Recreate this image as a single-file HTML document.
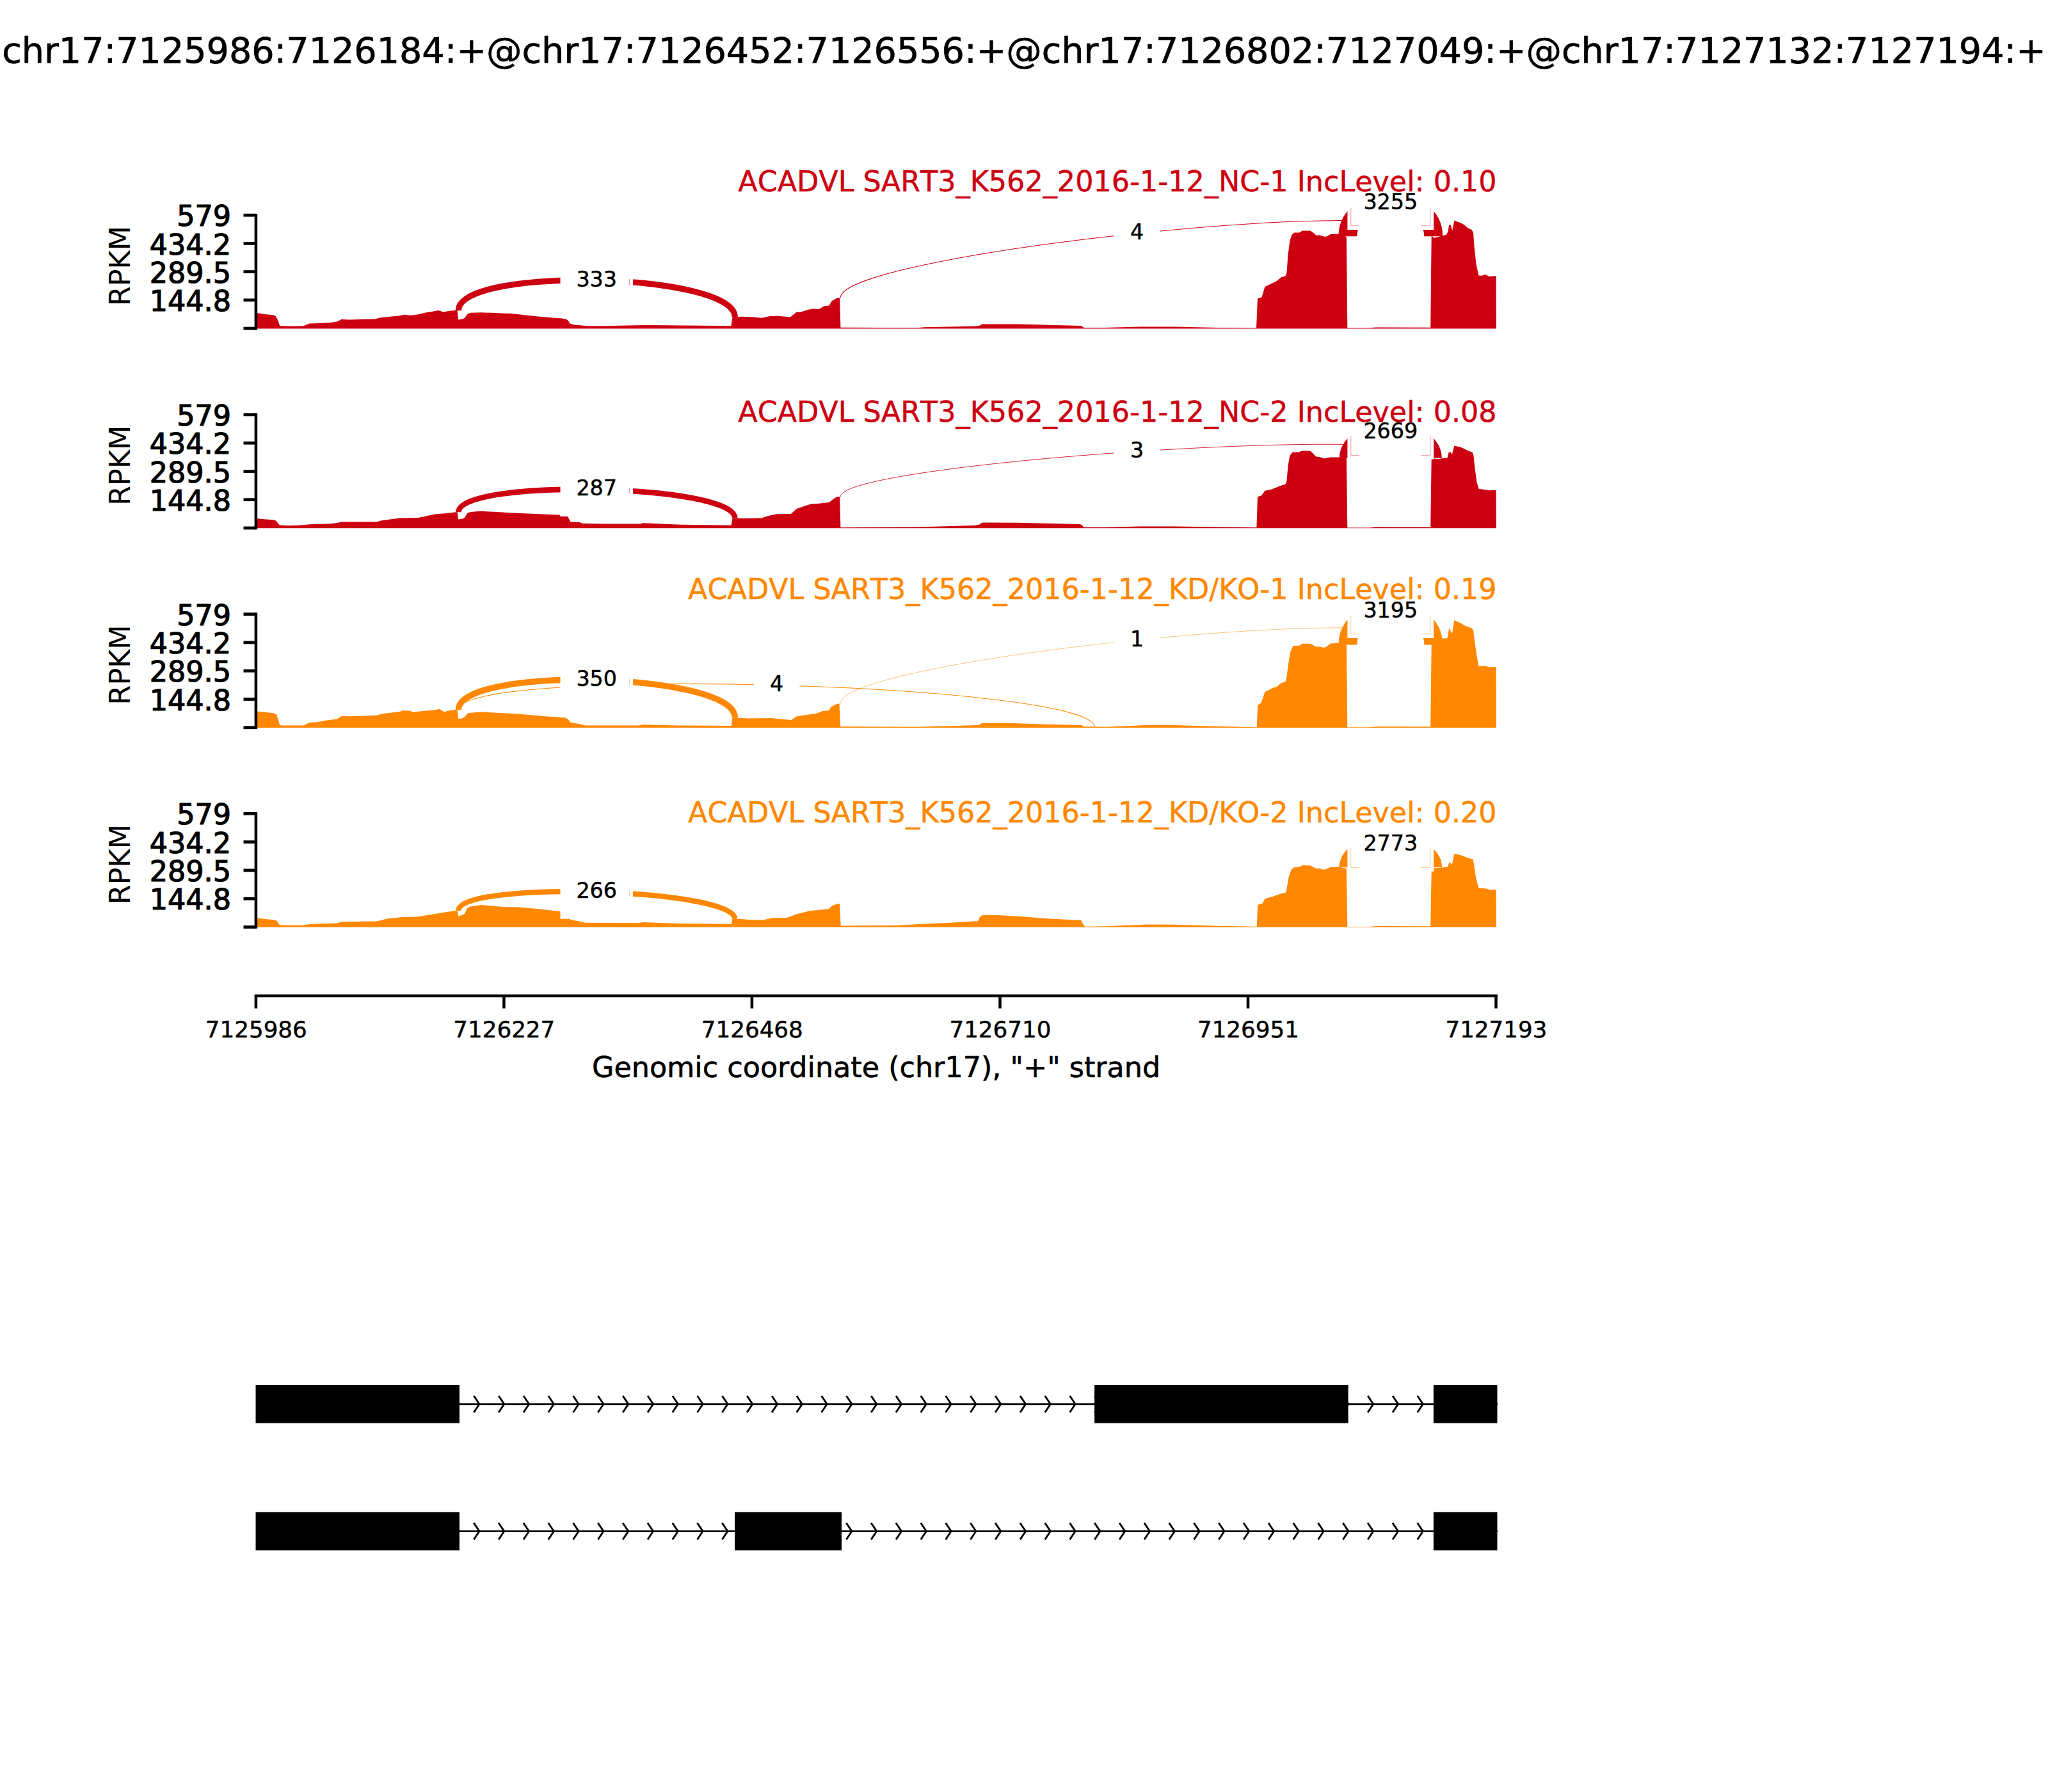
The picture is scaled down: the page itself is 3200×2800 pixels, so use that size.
<!DOCTYPE html>
<html><head><meta charset="utf-8"><title>sashimi plot</title>
<style>html,body{margin:0;padding:0;background:#fff}svg{display:block}text{font-family:'DejaVu Sans', 'Liberation Sans', sans-serif;font-kerning:none;stroke-linejoin:round;}.t10{stroke:#000;stroke-width:0.7px}.t8{stroke:#000;stroke-width:1.2px}.t6{stroke:#000;stroke-width:0.5px}.tx{stroke:#000;stroke-width:0.5px}.t8b{stroke:#000;stroke-width:0.6px}.tr{stroke:#CC0011;stroke-width:0.5px}.to{stroke:#FF8800;stroke-width:0.5px}</style>
</head><body>
<svg width="3200" height="2800" viewBox="0 0 3200 2800">
<rect x="0" y="0" width="3200" height="2800" fill="#ffffff"/>
<text class="t10" x="1600" y="97.8" font-size="55.56" text-anchor="middle" fill="#000">chr17:7125986:7126184:+@chr17:7126452:7126556:+@chr17:7126802:7127049:+@chr17:7127132:7127194:+</text>
<g>
<polygon fill="#CC0011" points="400.0,513.4 400.0,488.8 415.4,491.3 427.1,492.3 431.0,494.2 434.0,500.0 436.9,508.3 438.8,509.3 458.4,509.8 474.0,509.3 483.8,505.4 499.4,505.0 517.0,504.0 526.7,502.4 533.6,499.1 546.2,499.5 585.3,498.5 595.0,496.2 624.4,493.2 632.2,491.7 642.0,492.7 653.7,491.3 663.4,488.8 677.1,486.4 685.0,485.0 692.7,487.4 702.5,485.8 711.9,485.0 714.6,485.0 716.2,499.5 722.0,498.7 726.0,497.1 730.8,490.3 735.7,488.8 751.3,488.2 790.0,489.7 797.8,489.7 819.3,492.3 848.6,495.2 877.9,497.5 884.7,498.7 887.7,501.0 890.6,505.4 895.5,507.3 917.0,509.3 946.2,509.3 1004.8,507.9 1063.4,508.5 1122.0,508.9 1142.5,508.9 1144.5,495.2 1161.1,494.8 1174.8,495.2 1190.0,496.8 1201.7,494.2 1213.4,493.6 1234.9,495.6 1244.7,487.4 1250.5,487.8 1262.3,484.1 1270.0,482.5 1279.8,482.9 1287.7,478.2 1295.5,477.6 1299.4,470.4 1307.2,465.9 1312.1,465.3 1313.4,511.8 1434.0,512.2 1444.0,511.2 1522.0,509.8 1529.8,508.9 1534.7,506.5 1590.0,506.5 1687.7,509.0 1690.6,509.8 1693.5,512.0 1726.7,512.0 1785.3,510.4 1834.0,510.4 1902.5,512.0 1963.0,512.6 1965.0,466.5 1971.5,464.5 1976.4,447.9 1989.0,442.0 1994.9,439.1 2001.8,433.3 2008.6,431.3 2010.5,425.5 2012.5,398.1 2015.4,376.6 2018.4,366.9 2022.3,363.4 2030.0,363.4 2035.0,360.6 2047.7,360.4 2057.4,367.9 2061.3,367.3 2069.1,369.8 2073.0,369.4 2078.9,365.9 2090.6,365.5 2099.4,365.5 2103.3,370.4 2103.9,370.4 2105.3,512.5 2140.0,512.6 2150.0,511.5 2234.8,511.8 2235.2,512.0 2236.7,368.8 2241.0,371.8 2248.8,369.8 2254.7,367.9 2259.6,366.9 2262.5,362.0 2264.1,351.3 2266.8,351.8 2269.3,360.0 2272.3,344.4 2282.0,348.3 2287.9,351.2 2293.8,356.5 2299.6,359.1 2302.1,363.9 2303.5,384.5 2306.4,411.8 2310.4,430.4 2315.2,430.7 2321.1,429.0 2327.0,431.9 2336.3,431.3 2337.0,431.3 2337.6,431.3 2337.9,513.4"/>
<path d="M716.3,485.2 C716.3,415.7 1148.2,425.7 1148.2,495.2" fill="none" stroke="#CC0011" stroke-width="9.28"/>
<path d="M1313.3,465.1 C1313.3,395.6 2239.9,299.1 2239.9,368.6" fill="none" stroke="#CC0011" stroke-width="1.02"/>
<path d="M2105.9,369.2 C2105.9,299.7 2239.7,299.7 2239.7,369.2" fill="none" stroke="#CC0011" stroke-width="29.00"/>
<rect x="875.5" y="396.4" width="113.6" height="83.6" fill="#fff"/>
<path d="M983.6,436.0 V445.2" fill="none" stroke="#CC0011" stroke-opacity="0.45" stroke-width="1"/>
<text class="t6" x="932.2" y="447.6" font-size="33.33" text-anchor="middle" fill="#000">333</text>
<rect x="1741.0" y="323.0" width="71.2" height="83.6" fill="#fff"/>
<text class="t6" x="1776.6" y="374.2" font-size="33.33" text-anchor="middle" fill="#000">4</text>
<rect x="2105.4" y="275.4" width="134.8" height="83.6" fill="#fff"/>
<path d="M2110.8,324.4 V352.8 H2123.8 M2234.8,324.4 V352.8 H2219.8" fill="none" stroke="#CC0011" stroke-opacity="0.4" stroke-width="1"/>
<text class="t6" x="2172.8" y="326.6" font-size="33.33" text-anchor="middle" fill="#000">3255</text>
<text class="tr" x="2338.6" y="298.7" font-size="44.44" text-anchor="end" fill="#CC0011">ACADVL SART3_K562_2016-1-12_NC-1 IncLevel: 0.10</text>
<path d="M399.9,333.9 V515.4" stroke="#000" stroke-width="4.5" fill="none"/>
<path d="M380.5,336.2 H400.0" stroke="#000" stroke-width="4.8" fill="none"/>
<text class="t8" x="361.0" y="353.3" font-size="44.44" text-anchor="end" fill="#000">579</text>
<path d="M380.5,380.4 H400.0" stroke="#000" stroke-width="4.8" fill="none"/>
<text class="t8" x="361.0" y="397.5" font-size="44.44" text-anchor="end" fill="#000">434.2</text>
<path d="M380.5,424.6 H400.0" stroke="#000" stroke-width="4.8" fill="none"/>
<text class="t8" x="361.0" y="441.8" font-size="44.44" text-anchor="end" fill="#000">289.5</text>
<path d="M380.5,468.9 H400.0" stroke="#000" stroke-width="4.8" fill="none"/>
<text class="t8" x="361.0" y="486.0" font-size="44.44" text-anchor="end" fill="#000">144.8</text>
<path d="M380.5,513.1 H400.0" stroke="#000" stroke-width="4.8" fill="none"/>
<text transform="translate(202.8,415.5) rotate(-90)" font-size="44.44" text-anchor="middle" fill="#000">RPKM</text>
</g>
<g>
<polygon fill="#CC0011" points="400.0,825.3 400.0,810.1 415.4,811.6 427.1,812.2 431.0,813.6 434.0,816.9 436.9,820.4 448.6,821.2 464.2,821.0 483.8,819.3 517.0,818.3 526.7,816.9 533.6,815.5 589.2,815.4 595.0,813.4 624.4,809.5 653.7,809.1 679.0,803.6 694.7,802.3 711.9,800.3 714.6,800.3 716.2,811.4 722.0,810.7 726.0,808.7 730.8,801.3 735.7,799.9 751.3,798.4 761.1,799.3 790.0,800.7 809.5,801.7 848.6,803.6 874.0,804.6 875.9,806.2 886.7,806.8 888.6,810.1 891.6,815.4 905.2,815.9 911.1,817.9 946.2,818.5 1000.9,818.5 1004.8,817.3 1063.4,819.8 1142.5,820.8 1144.5,809.5 1161.1,810.1 1190.0,809.4 1199.8,806.2 1213.4,803.2 1235.9,802.9 1244.7,795.0 1258.4,790.2 1268.1,787.2 1279.8,786.8 1295.5,784.9 1302.3,779.4 1307.2,776.5 1312.1,776.1 1313.4,824.3 1434.0,823.4 1522.0,821.0 1529.8,819.8 1534.7,816.5 1590.0,816.7 1687.7,819.1 1690.6,820.4 1693.5,823.9 1726.7,823.9 1785.3,822.4 1834.0,822.4 1902.5,823.4 1963.4,824.3 1965.0,776.3 1971.2,774.3 1976.5,766.7 1984.5,765.2 1989.0,763.8 2000.8,758.9 2008.6,756.6 2010.5,751.1 2012.5,727.7 2015.4,712.0 2019.3,706.8 2030.0,706.2 2035.0,704.2 2047.7,704.8 2056.4,713.4 2062.3,714.0 2069.1,716.5 2078.9,714.4 2090.6,714.4 2103.3,715.9 2103.9,715.9 2105.3,824.5 2140.0,824.6 2150.0,823.5 2234.8,823.8 2235.2,824.0 2236.7,715.9 2246.9,717.3 2254.7,715.9 2261.5,715.5 2263.5,707.1 2266.4,706.2 2268.9,710.1 2272.3,696.4 2282.0,698.4 2293.8,704.2 2300.6,706.8 2302.5,712.0 2304.5,731.6 2307.4,753.0 2310.4,763.8 2317.2,764.8 2327.0,766.3 2336.3,765.7 2337.0,765.7 2337.6,765.7 2337.9,825.3"/>
<path d="M716.3,800.3 C716.3,747.0 1148.2,756.2 1148.2,809.5" fill="none" stroke="#CC0011" stroke-width="8.61"/>
<path d="M1313.3,776.0 C1313.3,722.7 2239.9,661.5 2239.9,714.8" fill="none" stroke="#CC0011" stroke-width="0.88"/>
<path d="M2105.9,715.7 C2105.9,662.4 2239.7,662.4 2239.7,715.7" fill="none" stroke="#CC0011" stroke-width="26.26"/>
<rect x="875.5" y="723.2" width="113.6" height="83.6" fill="#fff"/>
<path d="M983.6,762.7 V771.3" fill="none" stroke="#CC0011" stroke-opacity="0.45" stroke-width="1"/>
<text class="t6" x="932.2" y="774.4" font-size="33.33" text-anchor="middle" fill="#000">287</text>
<rect x="1741.0" y="663.7" width="71.2" height="83.6" fill="#fff"/>
<text class="t6" x="1776.6" y="714.9" font-size="33.33" text-anchor="middle" fill="#000">3</text>
<rect x="2105.4" y="634.0" width="134.8" height="83.6" fill="#fff"/>
<path d="M2110.8,681.3 V711.4 H2123.8 M2234.8,681.3 V711.4 H2219.8" fill="none" stroke="#CC0011" stroke-opacity="0.4" stroke-width="1"/>
<text class="t6" x="2172.8" y="685.2" font-size="33.33" text-anchor="middle" fill="#000">2669</text>
<text class="tr" x="2338.6" y="659.4" font-size="44.44" text-anchor="end" fill="#CC0011">ACADVL SART3_K562_2016-1-12_NC-2 IncLevel: 0.08</text>
<path d="M399.9,645.6 V827.3" stroke="#000" stroke-width="4.5" fill="none"/>
<path d="M380.5,647.9 H400.0" stroke="#000" stroke-width="4.8" fill="none"/>
<text class="t8" x="361.0" y="665.0" font-size="44.44" text-anchor="end" fill="#000">579</text>
<path d="M380.5,692.2 H400.0" stroke="#000" stroke-width="4.8" fill="none"/>
<text class="t8" x="361.0" y="709.3" font-size="44.44" text-anchor="end" fill="#000">434.2</text>
<path d="M380.5,736.5 H400.0" stroke="#000" stroke-width="4.8" fill="none"/>
<text class="t8" x="361.0" y="753.6" font-size="44.44" text-anchor="end" fill="#000">289.5</text>
<path d="M380.5,780.7 H400.0" stroke="#000" stroke-width="4.8" fill="none"/>
<text class="t8" x="361.0" y="797.8" font-size="44.44" text-anchor="end" fill="#000">144.8</text>
<path d="M380.5,825.0 H400.0" stroke="#000" stroke-width="4.8" fill="none"/>
<text transform="translate(202.8,727.2) rotate(-90)" font-size="44.44" text-anchor="middle" fill="#000">RPKM</text>
</g>
<g>
<polygon fill="#FF8800" points="400.0,1137.1 400.0,1111.3 415.4,1112.9 427.1,1114.2 432.0,1116.2 434.5,1124.0 436.9,1132.2 439.8,1133.4 474.0,1133.4 483.8,1128.9 495.5,1128.3 507.2,1125.9 526.7,1123.6 533.6,1118.7 546.2,1119.3 589.2,1117.7 597.0,1115.2 624.4,1111.9 630.2,1109.9 642.0,1110.7 643.9,1112.7 663.4,1110.7 679.0,1109.3 686.9,1108.0 693.7,1112.3 702.5,1110.3 711.9,1108.9 714.6,1109.3 716.2,1123.0 722.0,1122.4 726.3,1120.1 730.8,1114.6 735.7,1113.8 751.3,1112.3 790.0,1114.6 809.5,1115.5 848.6,1118.9 882.8,1121.3 887.7,1123.8 891.3,1128.7 904.7,1131.1 914.5,1133.5 997.5,1133.5 1004.8,1132.3 1058.6,1133.5 1142.8,1134.0 1144.5,1120.8 1168.4,1122.6 1205.0,1122.0 1229.5,1124.5 1236.8,1125.0 1244.1,1119.6 1258.8,1117.2 1275.8,1114.7 1285.6,1111.1 1294.9,1110.2 1298.5,1104.8 1305.9,1100.4 1311.5,1099.2 1313.2,1135.3 1431.6,1135.8 1497.5,1134.1 1529.3,1132.9 1534.1,1129.9 1583.0,1129.9 1631.8,1131.7 1690.4,1132.9 1692.8,1135.3 1729.5,1135.8 1790.0,1132.9 1834.0,1132.9 1902.5,1135.0 1963.7,1136.3 1965.2,1101.7 1970.5,1098.6 1976.4,1081.2 1989.0,1074.8 1994.9,1073.2 2000.8,1067.9 2008.6,1065.0 2010.5,1057.2 2012.9,1037.7 2016.4,1018.1 2020.3,1009.3 2030.0,1008.8 2035.0,1005.8 2047.7,1005.8 2056.4,1010.7 2061.3,1010.3 2068.2,1011.9 2073.0,1010.3 2078.9,1005.4 2090.6,1004.8 2103.3,1007.8 2103.9,1007.8 2105.3,1136.2 2140.0,1136.3 2150.0,1135.2 2234.8,1135.5 2235.2,1135.7 2236.7,1006.4 2241.0,1007.4 2253.7,997.6 2261.5,997.2 2264.1,982.0 2266.0,984.0 2267.4,988.8 2269.3,987.9 2272.3,968.9 2282.0,973.6 2289.8,978.1 2299.6,981.6 2302.1,984.9 2304.5,1004.5 2307.4,1024.0 2310.4,1041.2 2321.1,1040.6 2327.0,1042.5 2336.3,1042.0 2337.0,1042.0 2337.6,1042.0 2337.9,1137.1"/>
<path d="M716.3,1109.3 C716.3,1039.5 1148.2,1051.0 1148.2,1120.8" fill="none" stroke="#FF8800" stroke-width="9.51"/>
<path d="M716.3,1109.3 C716.3,1039.5 1711.0,1067.0 1711.0,1136.8" fill="none" stroke="#FF8800" stroke-width="1.02"/>
<path d="M1313.3,1099.2 C1313.3,1029.4 2239.9,935.7 2239.9,1005.5" fill="none" stroke="#FF8800" stroke-width="0.51"/>
<path d="M2105.9,1007.4 C2105.9,937.6 2239.7,937.6 2239.7,1007.4" fill="none" stroke="#FF8800" stroke-width="28.73"/>
<rect x="875.5" y="1021.0" width="113.6" height="83.6" fill="#fff"/>
<path d="M983.6,1060.7 V1070.2" fill="none" stroke="#FF8800" stroke-opacity="0.45" stroke-width="1"/>
<text class="t6" x="932.2" y="1072.2" font-size="33.33" text-anchor="middle" fill="#000">350</text>
<rect x="1178.1" y="1029.0" width="71.2" height="83.6" fill="#fff"/>
<text class="t6" x="1213.7" y="1080.2" font-size="33.33" text-anchor="middle" fill="#000">4</text>
<rect x="1741.0" y="958.3" width="71.2" height="83.6" fill="#fff"/>
<text class="t6" x="1776.6" y="1009.5" font-size="33.33" text-anchor="middle" fill="#000">1</text>
<rect x="2105.4" y="913.3" width="134.8" height="83.6" fill="#fff"/>
<path d="M2110.8,962.4 V990.7 H2123.8 M2234.8,962.4 V990.7 H2219.8" fill="none" stroke="#FF8800" stroke-opacity="0.4" stroke-width="1"/>
<text class="t6" x="2172.8" y="964.5" font-size="33.33" text-anchor="middle" fill="#000">3195</text>
<text class="to" x="2338.6" y="936.2" font-size="44.44" text-anchor="end" fill="#FF8800">ACADVL SART3_K562_2016-1-12_KD/KO-1 IncLevel: 0.19</text>
<path d="M399.9,957.3 V1139.1" stroke="#000" stroke-width="4.5" fill="none"/>
<path d="M380.5,959.6 H400.0" stroke="#000" stroke-width="4.8" fill="none"/>
<text class="t8" x="361.0" y="976.7" font-size="44.44" text-anchor="end" fill="#000">579</text>
<path d="M380.5,1003.9 H400.0" stroke="#000" stroke-width="4.8" fill="none"/>
<text class="t8" x="361.0" y="1021.0" font-size="44.44" text-anchor="end" fill="#000">434.2</text>
<path d="M380.5,1048.2 H400.0" stroke="#000" stroke-width="4.8" fill="none"/>
<text class="t8" x="361.0" y="1065.3" font-size="44.44" text-anchor="end" fill="#000">289.5</text>
<path d="M380.5,1092.5 H400.0" stroke="#000" stroke-width="4.8" fill="none"/>
<text class="t8" x="361.0" y="1109.6" font-size="44.44" text-anchor="end" fill="#000">144.8</text>
<path d="M380.5,1136.8 H400.0" stroke="#000" stroke-width="4.8" fill="none"/>
<text transform="translate(202.8,1038.9) rotate(-90)" font-size="44.44" text-anchor="middle" fill="#000">RPKM</text>
</g>
<g>
<polygon fill="#FF8800" points="400.0,1448.8 400.0,1434.0 409.5,1435.5 427.1,1437.3 432.0,1438.3 434.5,1441.8 436.9,1445.3 458.4,1446.1 474.0,1445.7 483.8,1444.1 526.7,1442.4 533.6,1440.2 589.2,1439.5 604.8,1435.5 628.3,1433.0 651.7,1432.6 673.2,1429.1 694.7,1425.6 711.9,1422.9 714.6,1423.2 716.2,1431.4 722.0,1429.7 726.0,1427.7 729.8,1419.3 733.8,1416.8 751.3,1414.1 790.0,1417.2 809.5,1417.4 838.8,1419.9 875.0,1424.0 886.4,1426.0 888.5,1431.0 891.3,1437.0 904.7,1439.4 914.5,1441.8 997.5,1442.3 1004.8,1441.1 1058.6,1443.1 1142.8,1443.8 1144.5,1435.7 1156.2,1435.7 1168.4,1437.0 1192.8,1437.4 1205.0,1434.5 1229.5,1434.0 1244.1,1428.4 1266.1,1423.0 1290.0,1420.8 1294.9,1420.2 1299.8,1415.5 1307.1,1412.4 1312.0,1411.9 1313.7,1446.5 1399.9,1446.0 1436.5,1444.1 1485.3,1441.7 1528.0,1439.2 1531.7,1431.9 1535.4,1429.9 1558.6,1429.9 1595.2,1431.9 1631.8,1435.1 1689.2,1438.0 1691.6,1442.9 1695.3,1447.8 1729.5,1447.3 1790.0,1444.6 1834.0,1444.8 1902.5,1446.8 1963.7,1447.7 1965.2,1413.7 1972.5,1411.7 1976.4,1404.3 1989.0,1400.8 2000.8,1396.5 2009.2,1394.5 2010.9,1386.7 2013.5,1371.1 2017.4,1359.4 2021.3,1355.5 2030.0,1354.5 2035.9,1352.1 2047.7,1352.5 2056.4,1357.0 2062.3,1357.0 2068.2,1359.0 2073.0,1357.4 2078.9,1355.1 2091.6,1354.5 2103.3,1357.0 2103.9,1357.0 2105.3,1447.9 2140.0,1448.0 2150.0,1446.9 2234.8,1447.2 2235.2,1447.4 2236.7,1360.9 2239.5,1360.5 2241.0,1356.4 2253.7,1355.5 2262.1,1354.5 2264.1,1348.2 2266.4,1347.7 2268.8,1351.2 2272.3,1334.0 2282.0,1335.9 2293.8,1340.4 2301.6,1342.8 2303.5,1353.5 2306.4,1373.0 2310.4,1387.7 2321.1,1388.3 2327.0,1390.0 2336.3,1390.2 2337.0,1390.2 2337.6,1390.2 2337.9,1448.8"/>
<path d="M716.3,1422.9 C716.3,1375.6 1148.2,1388.4 1148.2,1435.7" fill="none" stroke="#FF8800" stroke-width="8.29"/>
<path d="M2105.9,1355.2 C2105.9,1307.9 2239.7,1307.9 2239.7,1355.2" fill="none" stroke="#FF8800" stroke-width="26.77"/>
<rect x="875.5" y="1352.1" width="113.6" height="83.6" fill="#fff"/>
<path d="M983.6,1392.1 V1400.4" fill="none" stroke="#FF8800" stroke-opacity="0.45" stroke-width="1"/>
<text class="t6" x="932.2" y="1403.3" font-size="33.33" text-anchor="middle" fill="#000">266</text>
<rect x="2105.4" y="1278.0" width="134.8" height="83.6" fill="#fff"/>
<path d="M2110.8,1324.7 V1355.4 H2123.8 M2234.8,1324.7 V1355.4 H2219.8" fill="none" stroke="#FF8800" stroke-opacity="0.4" stroke-width="1"/>
<text class="t6" x="2172.8" y="1329.2" font-size="33.33" text-anchor="middle" fill="#000">2773</text>
<text class="to" x="2338.6" y="1284.9" font-size="44.44" text-anchor="end" fill="#FF8800">ACADVL SART3_K562_2016-1-12_KD/KO-2 IncLevel: 0.20</text>
<path d="M399.9,1269.0 V1450.8" stroke="#000" stroke-width="4.5" fill="none"/>
<path d="M380.5,1271.3 H400.0" stroke="#000" stroke-width="4.8" fill="none"/>
<text class="t8" x="361.0" y="1288.4" font-size="44.44" text-anchor="end" fill="#000">579</text>
<path d="M380.5,1315.6 H400.0" stroke="#000" stroke-width="4.8" fill="none"/>
<text class="t8" x="361.0" y="1332.7" font-size="44.44" text-anchor="end" fill="#000">434.2</text>
<path d="M380.5,1359.9 H400.0" stroke="#000" stroke-width="4.8" fill="none"/>
<text class="t8" x="361.0" y="1377.0" font-size="44.44" text-anchor="end" fill="#000">289.5</text>
<path d="M380.5,1404.2 H400.0" stroke="#000" stroke-width="4.8" fill="none"/>
<text class="t8" x="361.0" y="1421.3" font-size="44.44" text-anchor="end" fill="#000">144.8</text>
<path d="M380.5,1448.5 H400.0" stroke="#000" stroke-width="4.8" fill="none"/>
<text transform="translate(202.8,1350.6) rotate(-90)" font-size="44.44" text-anchor="middle" fill="#000">RPKM</text>
</g>
<path d="M397.7,1556.0 H2339.9" stroke="#000" stroke-width="4.5" fill="none"/>
<path d="M399.9,1556.0 V1575.6" stroke="#000" stroke-width="4.5" fill="none"/>
<text class="tx" x="400.3" y="1620.5" font-size="35.70" text-anchor="middle" fill="#000">7125986</text>
<path d="M787.4,1556.0 V1575.6" stroke="#000" stroke-width="4.5" fill="none"/>
<text class="tx" x="787.8" y="1620.5" font-size="35.70" text-anchor="middle" fill="#000">7126227</text>
<path d="M1174.9,1556.0 V1575.6" stroke="#000" stroke-width="4.5" fill="none"/>
<text class="tx" x="1175.3" y="1620.5" font-size="35.70" text-anchor="middle" fill="#000">7126468</text>
<path d="M1562.5,1556.0 V1575.6" stroke="#000" stroke-width="4.5" fill="none"/>
<text class="tx" x="1562.9" y="1620.5" font-size="35.70" text-anchor="middle" fill="#000">7126710</text>
<path d="M1950.0,1556.0 V1575.6" stroke="#000" stroke-width="4.5" fill="none"/>
<text class="tx" x="1950.4" y="1620.5" font-size="35.70" text-anchor="middle" fill="#000">7126951</text>
<path d="M2337.5,1556.0 V1575.6" stroke="#000" stroke-width="4.5" fill="none"/>
<text class="tx" x="2337.9" y="1620.5" font-size="35.70" text-anchor="middle" fill="#000">7127193</text>
<text class="t8b" x="1369.1" y="1682.8" font-size="44.44" text-anchor="middle" fill="#000">Genomic coordinate (chr17), &quot;+&quot; strand</text>
<path d="M400.9,2193.9 H2340.1" stroke="#000" stroke-width="2.8" fill="none"/>
<path d="M430.7,2182.1 L438.6,2193.9 L430.7,2205.7 M469.5,2182.1 L477.4,2193.9 L469.5,2205.7 M508.3,2182.1 L516.2,2193.9 L508.3,2205.7 M547.1,2182.1 L555.0,2193.9 L547.1,2205.7 M585.9,2182.1 L593.8,2193.9 L585.9,2205.7 M624.7,2182.1 L632.6,2193.9 L624.7,2205.7 M663.5,2182.1 L671.4,2193.9 L663.5,2205.7 M702.3,2182.1 L710.2,2193.9 L702.3,2205.7 M741.1,2182.1 L749.0,2193.9 L741.1,2205.7 M779.9,2182.1 L787.8,2193.9 L779.9,2205.7 M818.7,2182.1 L826.6,2193.9 L818.7,2205.7 M857.5,2182.1 L865.4,2193.9 L857.5,2205.7 M896.3,2182.1 L904.2,2193.9 L896.3,2205.7 M935.1,2182.1 L943.0,2193.9 L935.1,2205.7 M973.9,2182.1 L981.8,2193.9 L973.9,2205.7 M1012.7,2182.1 L1020.6,2193.9 L1012.7,2205.7 M1051.5,2182.1 L1059.4,2193.9 L1051.5,2205.7 M1090.3,2182.1 L1098.2,2193.9 L1090.3,2205.7 M1129.1,2182.1 L1137.0,2193.9 L1129.1,2205.7 M1167.9,2182.1 L1175.8,2193.9 L1167.9,2205.7 M1206.7,2182.1 L1214.6,2193.9 L1206.7,2205.7 M1245.5,2182.1 L1253.4,2193.9 L1245.5,2205.7 M1284.3,2182.1 L1292.2,2193.9 L1284.3,2205.7 M1323.1,2182.1 L1331.0,2193.9 L1323.1,2205.7 M1361.9,2182.1 L1369.8,2193.9 L1361.9,2205.7 M1400.7,2182.1 L1408.6,2193.9 L1400.7,2205.7 M1439.5,2182.1 L1447.4,2193.9 L1439.5,2205.7 M1478.3,2182.1 L1486.2,2193.9 L1478.3,2205.7 M1517.1,2182.1 L1525.0,2193.9 L1517.1,2205.7 M1555.9,2182.1 L1563.8,2193.9 L1555.9,2205.7 M1594.7,2182.1 L1602.6,2193.9 L1594.7,2205.7 M1633.5,2182.1 L1641.4,2193.9 L1633.5,2205.7 M1672.3,2182.1 L1680.2,2193.9 L1672.3,2205.7 M1711.1,2182.1 L1719.0,2193.9 L1711.1,2205.7 M1749.9,2182.1 L1757.8,2193.9 L1749.9,2205.7 M1788.7,2182.1 L1796.6,2193.9 L1788.7,2205.7 M1827.5,2182.1 L1835.4,2193.9 L1827.5,2205.7 M1866.3,2182.1 L1874.2,2193.9 L1866.3,2205.7 M1905.1,2182.1 L1913.0,2193.9 L1905.1,2205.7 M1943.9,2182.1 L1951.8,2193.9 L1943.9,2205.7 M1982.7,2182.1 L1990.6,2193.9 L1982.7,2205.7 M2021.5,2182.1 L2029.4,2193.9 L2021.5,2205.7 M2060.3,2182.1 L2068.2,2193.9 L2060.3,2205.7 M2099.1,2182.1 L2107.0,2193.9 L2099.1,2205.7 M2137.9,2182.1 L2145.8,2193.9 L2137.9,2205.7 M2176.7,2182.1 L2184.6,2193.9 L2176.7,2205.7 M2215.5,2182.1 L2223.4,2193.9 L2215.5,2205.7 M2254.3,2182.1 L2262.2,2193.9 L2254.3,2205.7 M2293.1,2182.1 L2301.0,2193.9 L2293.1,2205.7" stroke="#000" stroke-width="2.8" fill="none" stroke-linecap="square" stroke-linejoin="miter"/>
<rect x="400.9" y="2165.5" width="315.6" height="56.8" fill="#000" stroke="#000" stroke-width="2.8"/>
<rect x="1711.5" y="2165.5" width="393.7" height="56.8" fill="#000" stroke="#000" stroke-width="2.8"/>
<rect x="2241.3" y="2165.5" width="96.8" height="56.8" fill="#000" stroke="#000" stroke-width="2.8"/>
<path d="M400.9,2392.6 H2340.1" stroke="#000" stroke-width="2.8" fill="none"/>
<path d="M430.7,2380.8 L438.6,2392.6 L430.7,2404.4 M469.5,2380.8 L477.4,2392.6 L469.5,2404.4 M508.3,2380.8 L516.2,2392.6 L508.3,2404.4 M547.1,2380.8 L555.0,2392.6 L547.1,2404.4 M585.9,2380.8 L593.8,2392.6 L585.9,2404.4 M624.7,2380.8 L632.6,2392.6 L624.7,2404.4 M663.5,2380.8 L671.4,2392.6 L663.5,2404.4 M702.3,2380.8 L710.2,2392.6 L702.3,2404.4 M741.1,2380.8 L749.0,2392.6 L741.1,2404.4 M779.9,2380.8 L787.8,2392.6 L779.9,2404.4 M818.7,2380.8 L826.6,2392.6 L818.7,2404.4 M857.5,2380.8 L865.4,2392.6 L857.5,2404.4 M896.3,2380.8 L904.2,2392.6 L896.3,2404.4 M935.1,2380.8 L943.0,2392.6 L935.1,2404.4 M973.9,2380.8 L981.8,2392.6 L973.9,2404.4 M1012.7,2380.8 L1020.6,2392.6 L1012.7,2404.4 M1051.5,2380.8 L1059.4,2392.6 L1051.5,2404.4 M1090.3,2380.8 L1098.2,2392.6 L1090.3,2404.4 M1129.1,2380.8 L1137.0,2392.6 L1129.1,2404.4 M1167.9,2380.8 L1175.8,2392.6 L1167.9,2404.4 M1206.7,2380.8 L1214.6,2392.6 L1206.7,2404.4 M1245.5,2380.8 L1253.4,2392.6 L1245.5,2404.4 M1284.3,2380.8 L1292.2,2392.6 L1284.3,2404.4 M1323.1,2380.8 L1331.0,2392.6 L1323.1,2404.4 M1361.9,2380.8 L1369.8,2392.6 L1361.9,2404.4 M1400.7,2380.8 L1408.6,2392.6 L1400.7,2404.4 M1439.5,2380.8 L1447.4,2392.6 L1439.5,2404.4 M1478.3,2380.8 L1486.2,2392.6 L1478.3,2404.4 M1517.1,2380.8 L1525.0,2392.6 L1517.1,2404.4 M1555.9,2380.8 L1563.8,2392.6 L1555.9,2404.4 M1594.7,2380.8 L1602.6,2392.6 L1594.7,2404.4 M1633.5,2380.8 L1641.4,2392.6 L1633.5,2404.4 M1672.3,2380.8 L1680.2,2392.6 L1672.3,2404.4 M1711.1,2380.8 L1719.0,2392.6 L1711.1,2404.4 M1749.9,2380.8 L1757.8,2392.6 L1749.9,2404.4 M1788.7,2380.8 L1796.6,2392.6 L1788.7,2404.4 M1827.5,2380.8 L1835.4,2392.6 L1827.5,2404.4 M1866.3,2380.8 L1874.2,2392.6 L1866.3,2404.4 M1905.1,2380.8 L1913.0,2392.6 L1905.1,2404.4 M1943.9,2380.8 L1951.8,2392.6 L1943.9,2404.4 M1982.7,2380.8 L1990.6,2392.6 L1982.7,2404.4 M2021.5,2380.8 L2029.4,2392.6 L2021.5,2404.4 M2060.3,2380.8 L2068.2,2392.6 L2060.3,2404.4 M2099.1,2380.8 L2107.0,2392.6 L2099.1,2404.4 M2137.9,2380.8 L2145.8,2392.6 L2137.9,2404.4 M2176.7,2380.8 L2184.6,2392.6 L2176.7,2404.4 M2215.5,2380.8 L2223.4,2392.6 L2215.5,2404.4 M2254.3,2380.8 L2262.2,2392.6 L2254.3,2404.4 M2293.1,2380.8 L2301.0,2392.6 L2293.1,2404.4" stroke="#000" stroke-width="2.8" fill="none" stroke-linecap="square" stroke-linejoin="miter"/>
<rect x="400.9" y="2364.2" width="315.6" height="56.8" fill="#000" stroke="#000" stroke-width="2.8"/>
<rect x="1149.4" y="2364.2" width="164.2" height="56.8" fill="#000" stroke="#000" stroke-width="2.8"/>
<rect x="2241.3" y="2364.2" width="96.8" height="56.8" fill="#000" stroke="#000" stroke-width="2.8"/>
</svg></body></html>
